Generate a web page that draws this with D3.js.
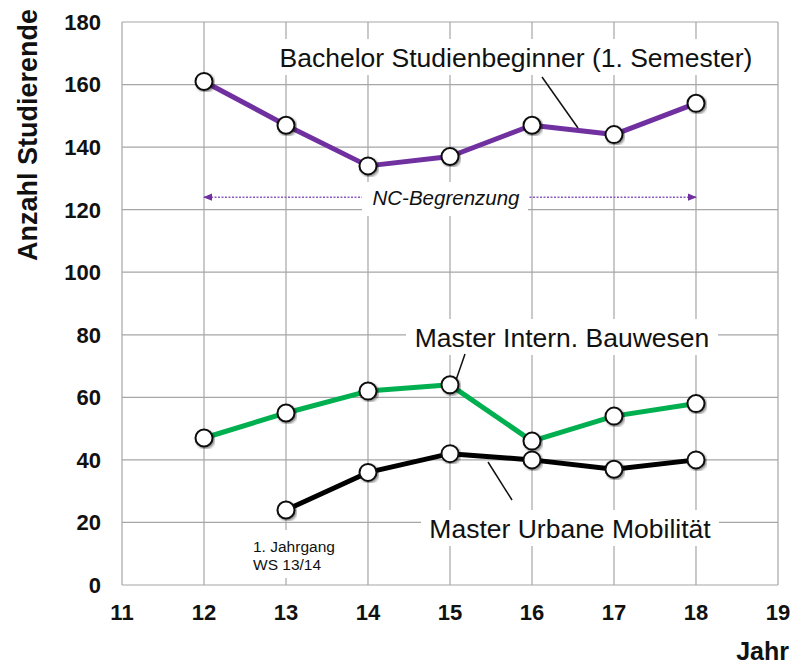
<!DOCTYPE html>
<html>
<head>
<meta charset="utf-8">
<script src="https://cdn.jsdelivr.net/npm/d3@7"></script>
<style>
  body { margin: 0; background: #fff; }
  svg { display: block; font-family: "Liberation Sans", Arial, sans-serif; }
</style>
</head>
<body>
<div id="chart"></div>
<script>
/* data */
const years = [12, 13, 14, 15, 16, 17, 18];
const bachelor = [161, 147, 134, 137, 147, 144, 154];
const masterBau = [47, 55, 62, 64, 46, 54, 58];
const masterMob = [null, 24, 36, 42, 40, 37, 40];
const xTicks = [11, 12, 13, 14, 15, 16, 17, 18, 19];
const yTicks = [0, 20, 40, 60, 80, 100, 120, 140, 160, 180];

const width = 797, height = 669;
const margin = { top: 22, right: 19, bottom: 84, left: 122 };

const svg = d3.select("#chart").append("svg")
	.attr("width", width)
	.attr("height", height);

const x = d3.scaleLinear().domain([11, 19]).range([margin.left, width - margin.right]);
const y = d3.scaleLinear().domain([0, 180]).range([height - margin.bottom, margin.top]);

/* grid */
const grid = svg.append("g").attr("class", "grid")
	.attr("stroke", "#a6a6a6").attr("stroke-width", 1.2);
grid.selectAll(".gx").data(xTicks).enter().append("line")
	.attr("x1", d => x(d)).attr("x2", d => x(d))
	.attr("y1", y(0)).attr("y2", y(180));
grid.selectAll(".gy").data(yTicks).enter().append("line")
	.attr("x1", x(11)).attr("x2", x(19))
	.attr("y1", d => y(d)).attr("y2", d => y(d));

/* tick labels */
svg.append("g").selectAll("text").data(yTicks).enter().append("text")
	.attr("x", 101).attr("y", d => y(d)).attr("dy", "0.36em")
	.attr("text-anchor", "end")
	.attr("font-size", 22).attr("font-weight", "bold").attr("fill", "#111")
	.text(d => d);
svg.append("g").selectAll("text").data(xTicks).enter().append("text")
	.attr("x", d => x(d)).attr("y", 620)
	.attr("text-anchor", "middle")
	.attr("font-size", 22).attr("font-weight", "bold").attr("fill", "#111")
	.text(d => d);

svg.append("text")
	.attr("transform", "translate(37,135) rotate(-90)")
	.attr("text-anchor", "middle")
	.attr("font-size", 27).attr("font-weight", "bold").attr("fill", "#111")
	.text("Anzahl Studierende");
svg.append("text")
	.attr("x", 789).attr("y", 660).attr("text-anchor", "end")
	.attr("font-size", 25).attr("font-weight", "bold").attr("fill", "#111")
	.text("Jahr");

/* NC-Begrenzung arrow */
const defs = svg.append("defs");
defs.append("marker").attr("id", "arr")
	.attr("viewBox", "0 0 10 10").attr("refX", 9).attr("refY", 5)
	.attr("markerWidth", 9).attr("markerHeight", 9).attr("orient", "auto-start-reverse")
	.attr("markerUnits", "userSpaceOnUse")
	.append("path").attr("d", "M0,1 L10,5 L0,9 Z").attr("fill", "#7030a0");
defs.append("filter").attr("id", "shadow")
	.append("feDropShadow").attr("dx", 1.5).attr("dy", 1.5).attr("stdDeviation", 0.8)
	.attr("flood-color", "#000").attr("flood-opacity", 0.45);

const ncY = y(124);
svg.append("line")
	.attr("x1", x(12)).attr("x2", x(18)).attr("y1", ncY).attr("y2", ncY)
	.attr("stroke", "#8e5cc0").attr("stroke-width", 1.5)
	.attr("stroke-dasharray", "2,1.5")
	.attr("marker-start", "url(#arr)").attr("marker-end", "url(#arr)");
svg.append("rect").attr("x", 362).attr("y", 182).attr("width", 166).attr("height", 34).attr("fill", "#fff");
svg.append("text")
	.attr("x", 446).attr("y", ncY).attr("dy", "0.36em").attr("text-anchor", "middle")
	.attr("font-size", 20.5).attr("font-style", "italic").attr("fill", "#111")
	.text("NC-Begrenzung");

/* annotation: first cohort */
svg.append("rect").attr("x", 248).attr("y", 530).attr("width", 94).attr("height", 48).attr("fill", "#fff");
svg.append("text").attr("x", 253).attr("y", 552)
	.attr("font-size", 15.5).attr("fill", "#111").text("1. Jahrgang");
svg.append("text").attr("x", 253).attr("y", 570)
	.attr("font-size", 15.5).attr("fill", "#111").text("WS 13/14");

/* series labels with white boxes and leader lines */
function label(txt, cx, cy, w, x1, y1, x2, y2) {
	svg.append("rect").attr("x", cx - w / 2).attr("y", cy - 18).attr("width", w).attr("height", 36).attr("fill", "#fff");
	svg.append("text").attr("x", cx).attr("y", cy).attr("dy", "0.36em").attr("text-anchor", "middle")
		.attr("font-size", 26.5).attr("fill", "#111").text(txt);
	svg.append("line").attr("x1", x1).attr("y1", y1).attr("x2", x2).attr("y2", y2)
		.attr("stroke", "#111").attr("stroke-width", 1.5);
}

const series = [
	{ values: bachelor, color: "#7030a0" },
	{ values: masterBau, color: "#00b050" },
	{ values: masterMob, color: "#000" }
];

const line = d3.line()
	.defined(d => d.v != null)
	.x(d => x(d.year)).y(d => y(d.v));

series.forEach(s => {
	const pts = years.map((yr, i) => ({ year: yr, v: s.values[i] }));
	svg.append("path").datum(pts)
		.attr("d", line).attr("fill", "none")
		.attr("stroke", s.color).attr("stroke-width", 5)
		.attr("stroke-linejoin", "round");
});

label("Bachelor Studienbeginner (1. Semester)", 516, 57, 492, 542, 77, 578, 128);
label("Master Intern. Bauwesen", 562, 337, 312, 465, 354, 455, 383);
label("Master Urbane Mobilität", 570, 528, 298, 488, 462, 512, 500);

series.forEach(s => {
	const pts = years.map((yr, i) => ({ year: yr, v: s.values[i] })).filter(d => d.v != null);
	svg.append("g").selectAll("circle").data(pts).enter().append("circle")
		.attr("cx", d => x(d.year)).attr("cy", d => y(d.v)).attr("r", 8.5)
		.attr("fill", "#fff").attr("stroke", "#111").attr("stroke-width", 2)
		.attr("filter", "url(#shadow)");
});
</script>
</body>
</html>
